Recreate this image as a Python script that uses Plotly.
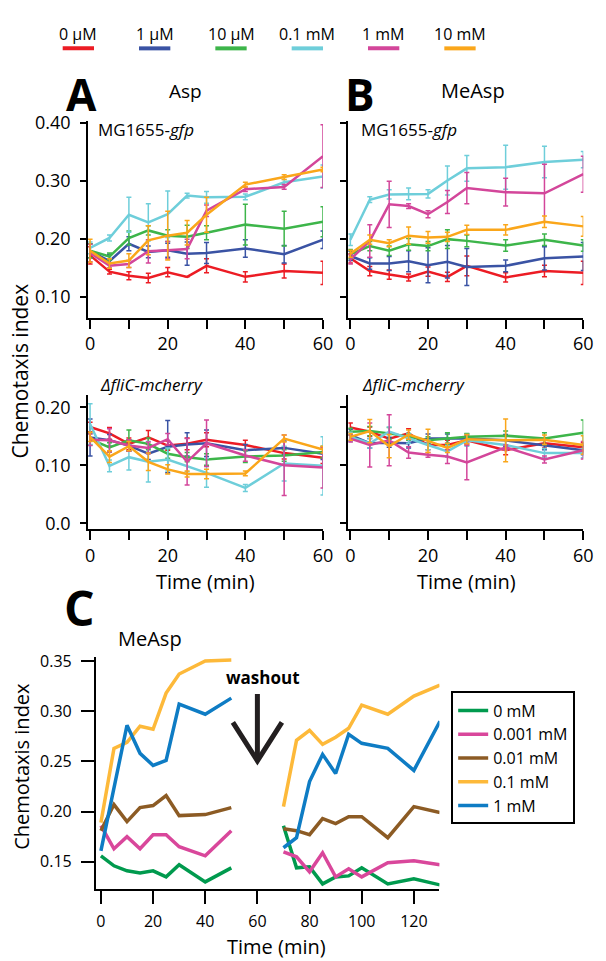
import plotly.graph_objects as go

W, H = 606, 961
FONT = "Open Sans"

# ---------------- data: panels A / B ----------------
times = [0, 5, 10, 15, 20, 25, 30, 40, 50, 60]
conc_labels = ["0 µM", "1 µM", "10 µM", "0.1 mM", "1 mM", "10 mM"]
conc_colors = ["#EC1C24", "#3A53A4", "#3DB54A", "#6ECEDA", "#D3469A", "#FAA61A"]

# Asp, MG1655-gfp
asp_gfp_mean = {
    "0 µM":   [0.172, 0.144, 0.137, 0.133, 0.143, 0.135, 0.154, 0.135, 0.145, 0.142],
    "1 µM":   [0.180, 0.162, 0.192, 0.178, 0.181, 0.175, 0.176, 0.184, 0.174, 0.199],
    "10 µM":  [0.180, 0.170, 0.202, 0.215, 0.206, 0.204, 0.211, 0.225, 0.218, 0.230],
    "0.1 mM": [0.185, 0.202, 0.242, 0.229, 0.243, 0.275, 0.272, 0.273, 0.298, 0.308],
    "1 mM":   [0.176, 0.154, 0.157, 0.179, 0.181, 0.183, 0.249, 0.286, 0.290, 0.343],
    "10 mM":  [0.180, 0.158, 0.163, 0.198, 0.206, 0.211, 0.242, 0.294, 0.307, 0.320],
}
asp_gfp_err = {
    "0 µM":   [0.015, 0.004, 0.007, 0.008, 0.008, 0.000, 0.012, 0.009, 0.012, 0.020],
    "1 µM":   [0.012, 0.012, 0.012, 0.010, 0.012, 0.020, 0.018, 0.015, 0.015, 0.015],
    "10 µM":  [0.012, 0.006, 0.012, 0.008, 0.010, 0.020, 0.012, 0.035, 0.030, 0.026],
    "0.1 mM": [0.010, 0.005, 0.030, 0.032, 0.040, 0.004, 0.010, 0.005, 0.005, 0.020],
    "1 mM":   [0.015, 0.004, 0.006, 0.020, 0.015, 0.017, 0.010, 0.004, 0.004, 0.054],
    "10 mM":  [0.020, 0.008, 0.012, 0.025, 0.042, 0.021, 0.030, 0.004, 0.004, 0.004],
}

# MeAsp, MG1655-gfp
measp_gfp_mean = {
    "0 µM":   [0.167, 0.145, 0.139, 0.134, 0.144, 0.135, 0.154, 0.134, 0.145, 0.142],
    "1 µM":   [0.171, 0.158, 0.158, 0.162, 0.155, 0.161, 0.152, 0.154, 0.167, 0.170],
    "10 µM":  [0.174, 0.188, 0.180, 0.191, 0.188, 0.200, 0.197, 0.189, 0.199, 0.189],
    "0.1 mM": [0.199, 0.268, 0.277, 0.278, 0.278, 0.301, 0.322, 0.324, 0.333, 0.337],
    "1 mM":   [0.165, 0.197, 0.260, 0.257, 0.243, 0.264, 0.288, 0.281, 0.279, 0.312],
    "10 mM":  [0.175, 0.199, 0.193, 0.206, 0.203, 0.204, 0.216, 0.216, 0.230, 0.222],
}
measp_gfp_err = {
    "0 µM":   [0.008, 0.008, 0.008, 0.006, 0.008, 0.008, 0.017, 0.008, 0.010, 0.020],
    "1 µM":   [0.008, 0.010, 0.012, 0.018, 0.030, 0.028, 0.032, 0.010, 0.020, 0.024],
    "10 µM":  [0.008, 0.008, 0.008, 0.010, 0.008, 0.016, 0.010, 0.010, 0.010, 0.010],
    "0.1 mM": [0.010, 0.005, 0.008, 0.010, 0.007, 0.025, 0.022, 0.038, 0.027, 0.014],
    "1 mM":   [0.008, 0.028, 0.040, 0.004, 0.006, 0.020, 0.027, 0.024, 0.050, 0.031],
    "10 mM":  [0.006, 0.008, 0.006, 0.015, 0.010, 0.008, 0.008, 0.009, 0.010, 0.017],
}

# Asp, dfliC-mcherry
asp_flic_mean = {
    "0 µM":   [0.166, 0.155, 0.137, 0.148, 0.134, 0.137, 0.144, 0.135, 0.121, 0.113],
    "1 µM":   [0.148, 0.143, 0.134, 0.120, 0.132, 0.136, 0.138, 0.126, 0.130, 0.120],
    "10 µM":  [0.145, 0.131, 0.143, 0.137, 0.120, 0.114, 0.110, 0.115, 0.117, 0.123],
    "0.1 mM": [0.171, 0.099, 0.114, 0.106, 0.110, 0.099, 0.087, 0.061, 0.103, 0.099],
    "1 mM":   [0.144, 0.143, 0.134, 0.130, 0.145, 0.106, 0.138, 0.117, 0.100, 0.096],
    "10 mM":  [0.149, 0.115, 0.133, 0.106, 0.093, 0.085, 0.085, 0.086, 0.146, 0.127],
}
asp_flic_err = {
    "0 µM":   [0.008, 0.010, 0.010, 0.012, 0.008, 0.010, 0.012, 0.008, 0.010, 0.010],
    "1 µM":   [0.032, 0.010, 0.010, 0.010, 0.045, 0.020, 0.023, 0.010, 0.012, 0.010],
    "10 µM":  [0.010, 0.008, 0.018, 0.010, 0.008, 0.008, 0.010, 0.010, 0.010, 0.010],
    "0.1 mM": [0.035, 0.010, 0.022, 0.035, 0.020, 0.010, 0.025, 0.006, 0.030, 0.050],
    "1 mM":   [0.010, 0.020, 0.010, 0.010, 0.010, 0.040, 0.040, 0.010, 0.052, 0.035],
    "10 mM":  [0.008, 0.010, 0.008, 0.015, 0.008, 0.005, 0.008, 0.004, 0.006, 0.006],
}

# MeAsp, dfliC-mcherry
measp_flic_mean = {
    "0 µM":   [0.165, 0.158, 0.146, 0.155, 0.135, 0.135, 0.143, 0.126, 0.138, 0.131],
    "1 µM":   [0.152, 0.138, 0.139, 0.138, 0.146, 0.146, 0.146, 0.143, 0.135, 0.126],
    "10 µM":  [0.158, 0.159, 0.155, 0.149, 0.143, 0.146, 0.149, 0.151, 0.146, 0.156],
    "0.1 mM": [0.149, 0.138, 0.158, 0.146, 0.135, 0.124, 0.143, 0.135, 0.121, 0.121],
    "1 mM":   [0.146, 0.135, 0.143, 0.122, 0.118, 0.115, 0.105, 0.131, 0.110, 0.126],
    "10 mM":  [0.149, 0.159, 0.133, 0.153, 0.142, 0.130, 0.145, 0.143, 0.144, 0.135],
}
measp_flic_err = {
    "0 µM":   [0.008, 0.008, 0.008, 0.008, 0.008, 0.008, 0.008, 0.008, 0.008, 0.008],
    "1 µM":   [0.010, 0.008, 0.008, 0.008, 0.008, 0.008, 0.008, 0.010, 0.008, 0.008],
    "10 µM":  [0.006, 0.008, 0.010, 0.006, 0.006, 0.010, 0.006, 0.008, 0.010, 0.022],
    "0.1 mM": [0.008, 0.008, 0.008, 0.008, 0.008, 0.010, 0.010, 0.008, 0.008, 0.008],
    "1 mM":   [0.006, 0.038, 0.044, 0.010, 0.004, 0.012, 0.030, 0.004, 0.006, 0.015],
    "10 mM":  [0.006, 0.020, 0.020, 0.008, 0.020, 0.008, 0.008, 0.037, 0.008, 0.016],
}

# ---------------- data: panel C (washout) ----------------
c_time_pre = [0, 5, 10, 15, 20, 25, 30, 40, 50]
c_time_post = [70, 75, 80, 85, 90, 95, 100, 110, 120, 130]
c_labels = ["0 mM", "0.001 mM", "0.01 mM", "0.1 mM", "1 mM"]
c_colors = ["#009A4E", "#D9479B", "#8C5B24", "#FDB93A", "#0E7CC4"]
c_pre = {
    "0 mM":     [0.156, 0.146, 0.141, 0.139, 0.141, 0.135, 0.147, 0.130, 0.144],
    "0.001 mM": [0.186, 0.163, 0.175, 0.163, 0.177, 0.177, 0.165, 0.156, 0.181],
    "0.01 mM":  [0.181, 0.207, 0.190, 0.204, 0.206, 0.216, 0.196, 0.197, 0.204],
    "0.1 mM":   [0.189, 0.263, 0.269, 0.285, 0.282, 0.318, 0.337, 0.350, 0.351],
    "1 mM":     [0.161, 0.225, 0.286, 0.258, 0.246, 0.251, 0.307, 0.297, 0.313],
}
c_post = {
    "0 mM":     [0.186, 0.144, 0.145, 0.128, 0.135, 0.136, 0.144, 0.128, 0.133, 0.127],
    "0.001 mM": [0.160, 0.155, 0.140, 0.159, 0.135, 0.143, 0.135, 0.149, 0.151, 0.147],
    "0.01 mM":  [0.183, 0.181, 0.177, 0.193, 0.188, 0.195, 0.195, 0.174, 0.205, 0.199],
    "0.1 mM":   [0.205, 0.271, 0.281, 0.267, 0.274, 0.283, 0.306, 0.297, 0.315, 0.326],
    "1 mM":     [0.164, 0.174, 0.230, 0.257, 0.238, 0.277, 0.268, 0.263, 0.241, 0.290],
}


def px(x):
    return x / W


def py(y):
    return 1 - y / H


fig = go.Figure()

panels = [
    (asp_gfp_mean, asp_gfp_err, "x", "y"),
    (measp_gfp_mean, measp_gfp_err, "x2", "y2"),
    (asp_flic_mean, asp_flic_err, "x3", "y3"),
    (measp_flic_mean, measp_flic_err, "x4", "y4"),
]
for mean, err, xa, ya in panels:
    for lab, col in zip(conc_labels, conc_colors):
        fig.add_trace(go.Scatter(
            x=times, y=mean[lab], mode="lines", name=lab,
            line=dict(color=col, width=2.5),
            error_y=dict(type="data", array=err[lab], visible=True,
                         color=col, thickness=1.5, width=2.5),
            xaxis=xa, yaxis=ya, showlegend=False, cliponaxis=False,
        ))

for lab, col in zip(c_labels, c_colors):
    xs = c_time_pre + [None] + c_time_post
    ys = c_pre[lab] + [None] + c_post[lab]
    fig.add_trace(go.Scatter(
        x=xs, y=ys, mode="lines", name=lab, connectgaps=False,
        line=dict(color=col, width=3.5), xaxis="x5", yaxis="y5",
        showlegend=True, cliponaxis=False,
    ))

axis_common = dict(showline=True, linewidth=2, linecolor="black", ticks="outside",
                   tickwidth=2, tickcolor="black", showgrid=False, zeroline=False,
                   tickfont=dict(family=FONT, size=18, color="black"))

ab_xticks = dict(tickmode="array", tickvals=[0, 10, 20, 30, 40, 50, 60],
                 ticktext=["0", "", "20", "", "40", "", "60"], ticklen=9,
                 ticklabelstandoff=0)

dom_x_left = [px(87), px(327)]
dom_x_right = [px(353), px(593)]
dom_y_top = [py(312), py(112)]
dom_y_bot = [py(527), py(390)]

fig.update_layout(
    width=W, height=H, margin=dict(l=0, r=0, t=0, b=0),
    paper_bgcolor="white", plot_bgcolor="white",
    font=dict(family=FONT, color="black"),
    xaxis=dict(domain=dom_x_left, range=[-0.5, 60], anchor="y", **ab_xticks, **axis_common),
    yaxis=dict(domain=dom_y_top, range=[0.0644, 0.4034], anchor="x", tickmode="array",
               tickvals=[0.1, 0.2, 0.3, 0.4], ticktext=["0.10", "0.20", "0.30", "0.40"],
               ticklen=6, ticklabelstandoff=6, **axis_common),
    xaxis2=dict(domain=dom_x_right, range=[-0.5, 60], anchor="y2", **ab_xticks, **axis_common),
    yaxis2=dict(domain=dom_y_top, range=[0.0644, 0.4034], anchor="x2", tickmode="array",
                tickvals=[0.1, 0.2, 0.3, 0.4], showticklabels=False, ticklen=6, **axis_common),
    xaxis3=dict(domain=dom_x_left, range=[-0.5, 60], anchor="y3", **ab_xticks, **axis_common),
    yaxis3=dict(domain=dom_y_bot, range=[-0.0102, 0.222], anchor="x3", tickmode="array",
                tickvals=[0, 0.1, 0.2], ticktext=["0.0", "0.10", "0.20"],
                ticklen=6, ticklabelstandoff=6, **axis_common),
    xaxis4=dict(domain=dom_x_right, range=[-0.5, 60], anchor="y4", **ab_xticks, **axis_common),
    yaxis4=dict(domain=dom_y_bot, range=[-0.0102, 0.222], anchor="x4", tickmode="array",
                tickvals=[0, 0.1, 0.2], showticklabels=False, ticklen=6, **axis_common),
    xaxis5=dict(domain=[px(95), px(446)], range=[-1.9, 129.8], anchor="y5", tickmode="array",
                tickvals=[0, 20, 40, 60, 80, 100, 120], ticklen=13, ticklabelstandoff=4,
                **{**axis_common, "tickfont": dict(family=FONT, size=16, color="black")}),
    yaxis5=dict(domain=[py(893), py(657)], range=[0.1228, 0.3539], anchor="x5", tickmode="array",
                tickvals=[0.15, 0.20, 0.25, 0.30, 0.35],
                ticktext=["0.15", "0.20", "0.25", "0.30", "0.35"], ticklen=13,
                ticklabelstandoff=6,
                **{**axis_common, "tickfont": dict(family=FONT, size=16, color="black")}),
    legend=dict(x=px(458), y=py(692), xanchor="left", yanchor="top",
                bordercolor="black", borderwidth=2, bgcolor="white",
                font=dict(family=FONT, size=16, color="black"),
                tracegroupgap=0, itemwidth=30),
)

ann = []


def txt(x, y, s, size, angle=0, **kw):
    ann.append(dict(x=px(x), y=py(y), xref="paper", yref="paper", text=s, showarrow=False,
                    xanchor="center", yanchor="middle", textangle=angle,
                    font=dict(family=FONT, size=size, color="black"), **kw))


txt(80, 84, "<b>A</b>", 44)
txt(365, 84, "<b>B</b>", 44)
txt(78, 607, "<b>C</b>", 48)
txt(187, 81, "Asp", 19)
txt(480, 81, "MeAsp", 20)
txt(146, 120, "MG1655-<i>gfp</i>", 17)
txt(415, 120, "MG1655-<i>gfp</i>", 17)
txt(152, 380, "<i>ΔfliC-mcherry</i>", 17)
txt(420, 380, "<i>ΔfliC-mcherry</i>", 17)
txt(17, 366, "Chemotaxis index", 21, angle=-90)
txt(207, 580, "Time (min)", 20)
txt(474, 580, "Time (min)", 20)
txt(150, 638, "MeAsp", 20)
txt(19, 768, "Chemotaxis index", 20, angle=-90)
txt(279, 951, "Time (min)", 20)
txt(266, 678, "<b>washout</b>", 17)

# top legend (text above a short coloured line)
shapes = []
leg_centers = [77, 155, 233, 311, 389, 467]
for cx, lab, col in zip(leg_centers, conc_labels, conc_colors):
    txt(cx, 23, lab, 16)
    shapes.append(dict(type="line", xref="paper", yref="paper",
                       x0=px(cx - 16), x1=px(cx + 16), y0=py(38), y1=py(38),
                       line=dict(color=col, width=4)))

# washout arrow (in panel C data coordinates)
shapes.append(dict(type="line", xref="x5", yref="y5", x0=60, x1=60, y0=0.317, y1=0.251,
                   line=dict(color="#231F20", width=5)))
shapes.append(dict(type="path", xref="x5", yref="y5",
                   path="M 50.6 0.2888 L 60 0.2505 L 69.4 0.2888",
                   line=dict(color="#231F20", width=5)))

fig.update_layout(annotations=ann, shapes=shapes)

fig.write_html("out.html")
